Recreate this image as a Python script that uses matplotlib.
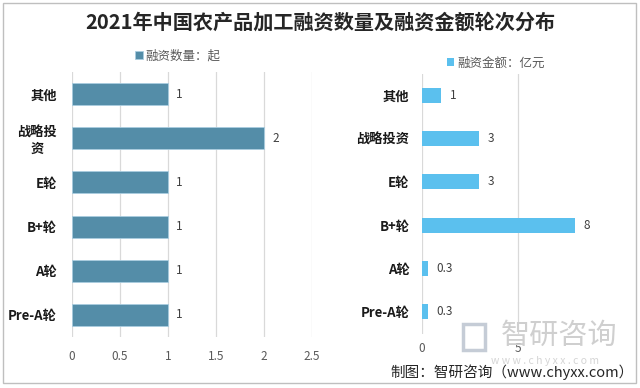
import matplotlib
matplotlib.use("Agg")
import matplotlib.pyplot as plt
from matplotlib.patches import Rectangle

plt.rcParams['font.family'] = ['Noto Sans CJK SC', 'DejaVu Sans']

title = '2021年中国农产品加工融资数量及融资金额轮次分布'
categories = ['其他', '战略投资', 'E轮', 'B+轮', 'A轮', 'Pre-A轮']
left_labels = ['其他', '战略投\n资', 'E轮', 'B+轮', 'A轮', 'Pre-A轮']
counts = [1, 2, 1, 1, 1, 1]
amounts = [1, 3, 3, 8, 0.3, 0.3]
count_labels = ['1', '2', '1', '1', '1', '1']
amount_labels = ['1', '3', '3', '8', '0.3', '0.3']
left_ticks = [0, 0.5, 1, 1.5, 2, 2.5]
left_ticklabels = ['0', '0.5', '1', '1.5', '2', '2.5']
right_ticks = [0, 5]
right_ticklabels = ['0', '5']
legend_left = '融资数量：起'
legend_right = '融资金额：亿元'

W, H = 640, 388
fig = plt.figure(figsize=(6.4, 3.88), dpi=100)
fig.patch.set_facecolor('white')

def fx(px):
    return px / W

def fy(py):
    return 1 - py / H

# outer frame
fig.patches.append(Rectangle((fx(3), fy(383)), fx(633), 380 / H, transform=fig.transFigure,
                             fill=False, edgecolor='#bfbfbf', linewidth=1.0))

fig.text(0.5, fy(22), title, ha='center', va='center', fontsize=14.5, fontweight='bold', color='#262626')

n = len(categories)
ypos = list(range(n))

def style(ax, ticks, ticklabels, xmax, pad_x, pad_y):
    ax.set_xlim(0, xmax)
    ax.set_ylim(n - 0.5, -0.5)
    ax.set_xticks(ticks)
    ax.set_xticklabels(ticklabels)
    for s in ax.spines.values():
        s.set_visible(False)
    ax.grid(axis='x', color='#d9d9d9', linewidth=0.9)
    ax.set_axisbelow(True)
    ax.tick_params(axis='x', length=0, pad=pad_x, labelsize=8.5, labelcolor='#595959')
    ax.tick_params(axis='y', length=0, pad=pad_y, labelsize=9.5, labelcolor='#1a1a1a')
    for lab in ax.get_yticklabels():
        lab.set_fontweight('bold')

# left chart
ax1 = fig.add_axes([fx(72), fy(337), fx(239.7), 265 / H])
b1 = ax1.barh(ypos, counts, height=0.5, color='#548DA8', edgecolor='#a9cde0', linewidth=0.6,
              label=legend_left)
ax1.set_yticks(ypos)
ax1.set_yticklabels(left_labels, linespacing=1.15, multialignment='center')
style(ax1, left_ticks, left_ticklabels, 2.5, 9.5, 11)
for y, v, t in zip(ypos, counts, count_labels):
    ax1.annotate(t, (v, y), xytext=(6, 0), textcoords='offset points', ha='left', va='center',
                 fontsize=8.5, color='#404040')

# right chart
ax2 = fig.add_axes([fx(422), fy(333.5), fx(172), 260 / H])
b2 = ax2.barh(ypos, amounts, height=0.34, color='#5BC0EE', label=legend_right)
ax2.set_yticks(ypos)
ax2.set_yticklabels(categories)
style(ax2, right_ticks, right_ticklabels, 9, 6, 9)
for y, v, t in zip(ypos, amounts, amount_labels):
    ax2.annotate(t, (v, y), xytext=(6, 0), textcoords='offset points', ha='left', va='center',
                 fontsize=8.5, color='#404040')

for handle, lab, cx, cy in [(b1, legend_left, 178, 56), (b2, legend_right, 496, 63)]:
    leg = fig.legend([handle], [lab], loc='center', bbox_to_anchor=(fx(cx), fy(cy)), frameon=False,
                     handlelength=0.6, handleheight=0.6, handletextpad=0.25, fontsize=9,
                     labelcolor='#595959', borderpad=0)

# watermark
fig.text(fx(559), fy(336), '智研咨询', ha='center', va='center', fontsize=21, color='#cfcfcf')
fig.text(fx(545), fy(361), 'w w w . c h y x x . c o m', ha='center', va='center', fontsize=7.5,
         color='#d5d5d5')
fig.patches.append(Rectangle((fx(463), fy(350)), fx(22), 26 / H, transform=fig.transFigure,
                             fill=False, edgecolor='#c5ccd6', linewidth=2.5))
fig.text(fx(634), fy(372), '制图：智研咨询（www.chyxx.com）', ha='right', va='center', fontsize=10.5,
         color='#262626')

fig.savefig('out.png', dpi=100, facecolor='white')
